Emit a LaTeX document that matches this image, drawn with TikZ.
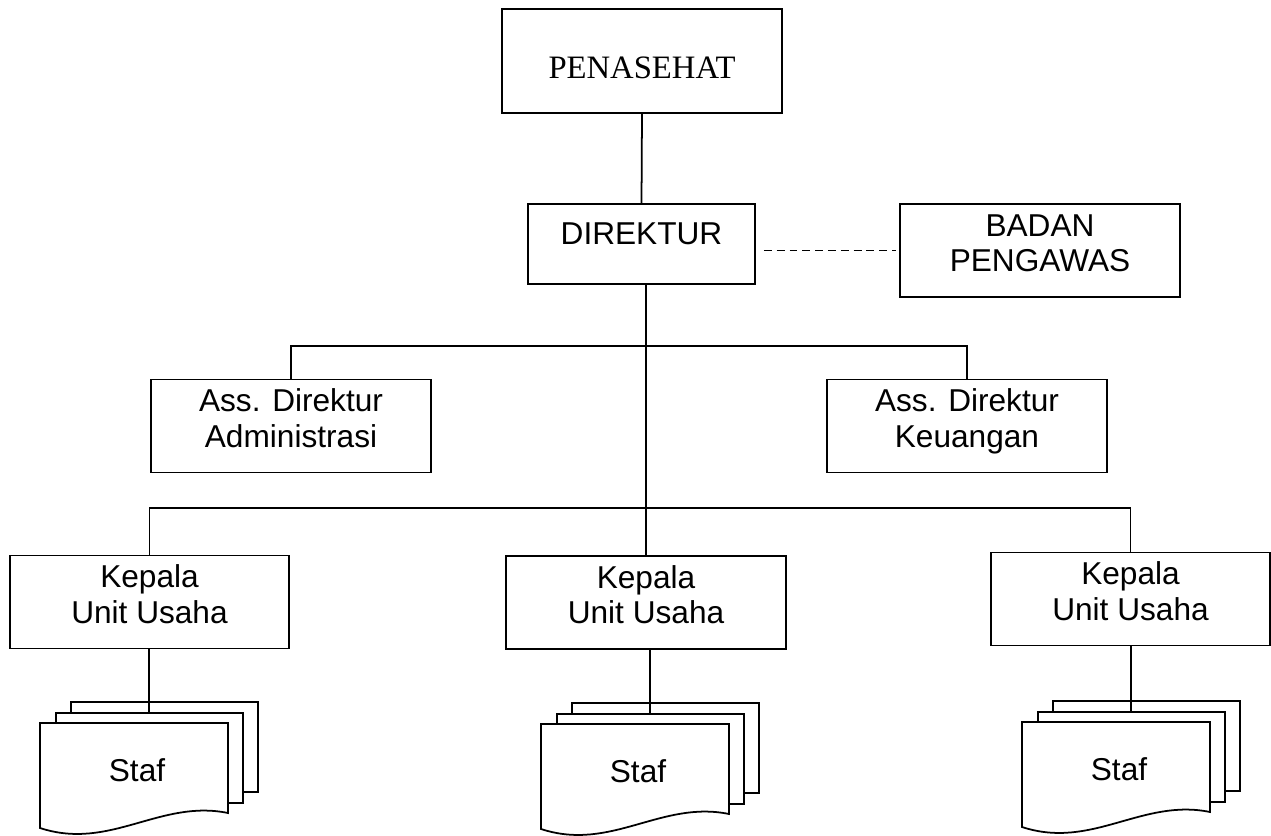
\documentclass[tikz,border=0pt]{standalone}
\usepackage{fontspec}
\setmainfont{Liberation Sans}
\newfontfamily\timesfont{Liberation Serif}
\usepackage{tikz}
\tikzset{
  unit/.style={draw, line width=1pt, fill=white, inner ysep=0pt, align=center, minimum width=5.6cm},
  oneline/.style={unit, text height=0.8cm, text depth=0.8cm},
  twoline/.style={unit, text height=1.35cm, text depth=0.51cm},
  sheet/.style={draw, line width=1pt, fill=white, inner sep=0pt, minimum width=3.74cm, minimum height=1.8cm},
  link/.style={line width=1pt},
}
\newcommand{\stafstack}[3]{%
  \node[sheet, anchor=north west] (#1b) at (#2+30,#3-22) {};
  \node[sheet, anchor=north west] (#1m) at (#2+15,#3-11) {};
  \draw[line width=1pt, fill=white] (#2,#3) -- (#2+188,#3) -- (#2+188,#3+90)
    .. controls (#2+120,#3+76) and (#2+70,#3+128) .. (#2,#3+105) -- cycle;
  \node[anchor=base] (#1) at (#2+97,#3+58) {Staf};
}

\begin{document}
\begin{tikzpicture}[x=0.02cm, y=-0.02cm, font=\fontsize{18}{20.1}\selectfont]
	\useasboundingbox (0,0) rectangle (1271,835);
	\node[unit, text height=1.4cm, text depth=0.68cm, font=\timesfont\fontsize{18.6}{22}\selectfont] (pen) at (642,61) {PENASEHAT};
	\node[oneline, minimum width=4.54cm] (dir) at (641.5,244) {DIREKTUR};
	\node[twoline] (badan) at (1040,250.5) {BADAN\\PENGAWAS};
	\node[twoline] (adm) at (291,426) {Ass. Direktur\\Administrasi};
	\node[twoline] (keu) at (967,426) {Ass. Direktur\\Keuangan};
	\node[twoline, minimum width=5.58cm] (kep1) at (149.5,602) {Kepala\\Unit Usaha};
	\node[twoline] (kep2) at (646,602.5) {Kepala\\Unit Usaha};
	\node[twoline, minimum width=5.58cm] (kep3) at (1130.5,599) {Kepala\\Unit Usaha};
	%
	\stafstack{staf1}{40}{723}
	\stafstack{staf2}{541}{724}
	\stafstack{staf3}{1022}{722}
	%
	\coordinate (bar1) at (646,346);
	\coordinate (bar2) at (646,508);
	%
	\draw [link] (pen.south) to (dir.north);
	\draw [link, dashed, dash pattern=on 4.5pt off 2.8pt, shorten <=0.16cm, shorten >=0.06cm] (badan.west -| dir.east) to (badan.west);
	\draw [link] (dir.south -| kep2.north) to (kep2.north);
	\draw [link] (adm.north) |- (bar1) -| (keu.north);
	\draw [link] (kep1.north) |- (bar2) -| (kep3.north);
	\draw [link] (kep1.south -| staf1m.north) to (staf1m.north);
	\draw [link] (kep2.south -| staf2m.north) to (staf2m.north);
	\draw [link] (kep3.south -| staf3m.north) to (staf3m.north);
\end{tikzpicture}
\end{document}
